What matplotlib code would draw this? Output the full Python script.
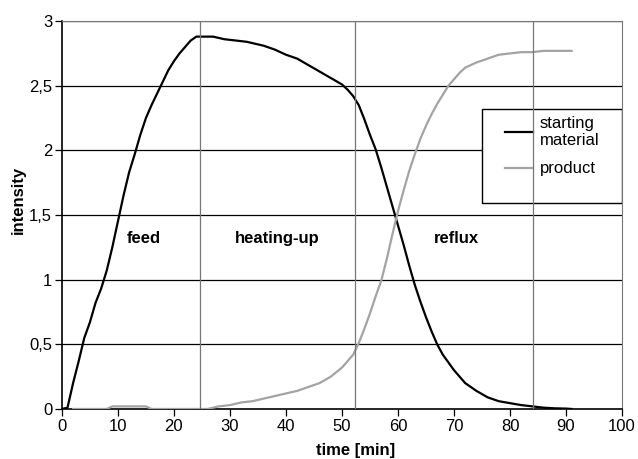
import numpy as np
import matplotlib
matplotlib.use("Agg")
import matplotlib.pyplot as plt
from matplotlib.patches import Rectangle
from matplotlib.ticker import FuncFormatter

plt.rcParams['font.family'] = ['Liberation Sans', 'DejaVu Sans']

# data
t_start = [0, 1, 2, 3, 4, 5, 6, 7, 8, 9, 10, 11, 12, 13, 14, 15, 16, 17, 18, 19, 20,
           21, 22, 23, 24, 27, 29, 31, 33, 36, 38, 40, 42, 44, 46, 48, 50, 51, 52, 53,
           54, 55, 56, 57, 58, 59, 60, 61, 62, 63, 64, 65, 66, 67, 68, 70, 72, 74, 76,
           78, 80, 82, 84, 86, 88, 90, 91]
y_start = [0, 0.01, 0.2, 0.37, 0.55, 0.67, 0.82, 0.93, 1.07, 1.25, 1.45, 1.65, 1.83,
           1.97, 2.12, 2.25, 2.35, 2.44, 2.53, 2.62, 2.69, 2.75, 2.8, 2.85, 2.88, 2.88,
           2.86, 2.85, 2.84, 2.81, 2.78, 2.74, 2.71, 2.66, 2.61, 2.56, 2.51, 2.47, 2.42,
           2.35, 2.24, 2.12, 2.01, 1.87, 1.72, 1.57, 1.42, 1.27, 1.11, 0.96, 0.83, 0.71,
           0.6, 0.5, 0.42, 0.3, 0.2, 0.14, 0.09, 0.06, 0.045, 0.03, 0.02, 0.01, 0.005,
           0.003, 0.0]

t_prod = [2, 8, 9, 15, 16, 26, 28, 30, 32, 34, 36, 38, 40, 42, 44, 46, 48, 50, 52, 53,
          54, 55, 56, 57, 58, 59, 60, 61, 62, 63, 64, 65, 66, 67, 68, 69, 70, 71, 72,
          74, 76, 78, 80, 82, 84, 86, 88, 91]
y_prod = [0, 0, 0.02, 0.02, 0, 0, 0.02, 0.03, 0.05, 0.06, 0.08, 0.1, 0.12, 0.14, 0.17,
          0.2, 0.25, 0.32, 0.42, 0.51, 0.62, 0.74, 0.87, 0.99, 1.16, 1.35, 1.53, 1.69,
          1.84, 1.97, 2.09, 2.19, 2.28, 2.36, 2.43, 2.5, 2.55, 2.6, 2.64, 2.68, 2.71, 2.74,
          2.75, 2.76, 2.76, 2.77, 2.77, 2.77]

phase_bounds = [24.6, 52.4, 84.1]
phase_names = ["feed", "heating-up", "reflux"]
phase_pos = [14.6, 38.4, 70.4]

FS = 12

fig = plt.figure(figsize=(6.38, 4.59), dpi=100)
ax = fig.add_axes([0.097, 0.109, 0.878, 0.845])

# horizontal grid
for yv in np.arange(0.5, 3.01, 0.5):
    ax.axhline(yv, color='black', lw=0.9, zorder=1)

ax.plot(t_start, y_start, color='black', lw=1.6, label='starting\nmaterial', zorder=3)
ax.plot(t_prod, y_prod, color='#a3a3a3', lw=1.6, label='product', zorder=3)

# phase boundaries, drawn above the legend box
for xb in phase_bounds:
    ax.axvline(xb, color='#777777', lw=0.9, zorder=6)

for name, xp in zip(phase_names, phase_pos):
    ax.text(xp, 1.32, name, ha='center', va='center', fontsize=FS, fontweight='bold')

ax.set_xlim(0, 100)
ax.set_ylim(0, 3)
ax.set_xticks(np.arange(0, 101, 10))
ax.set_yticks(np.arange(0, 3.01, 0.5))
ax.yaxis.set_major_formatter(FuncFormatter(lambda v, p: ('%g' % v).replace('.', ',')))
ax.tick_params(labelsize=FS, direction='out', length=5, width=0.9, pad=2)

ax.spines['top'].set_color('#777777')
ax.spines['right'].set_color('#777777')
ax.spines['left'].set_linewidth(1.2)
ax.spines['bottom'].set_linewidth(1.2)

ax.set_xlabel('time [min]', fontsize=FS, fontweight='bold')
ax.set_ylabel('intensity', fontsize=FS, fontweight='bold')
ax.xaxis.set_label_coords(0.525, -0.088)
ax.yaxis.set_label_coords(-0.065, 0.539)

# legend box
ax.add_patch(Rectangle((0.75, 0.531), 0.25, 0.242, transform=ax.transAxes,
                       facecolor='white', edgecolor='black', lw=1.0, zorder=4.9))
leg = ax.legend(loc='upper left', bbox_to_anchor=(0.791, 0.756), fontsize=FS,
                frameon=False, handlelength=1.7, handletextpad=0.4, borderpad=0,
                labelspacing=0.8, borderaxespad=0)
leg.set_zorder(5)

fig.savefig('out.png', dpi=100)
